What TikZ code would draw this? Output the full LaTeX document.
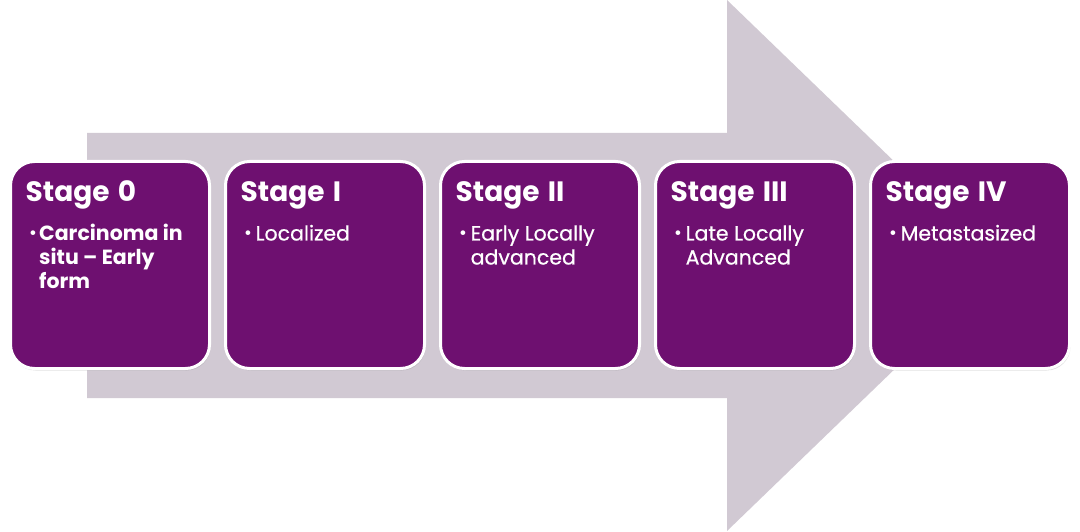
\documentclass[tikz,border=0pt]{standalone}
\usepackage{fontspec}
\setmainfont{Poppins}
\newfontfamily\medfont[FakeBold=0.6]{Poppins}
\usetikzlibrary{shadows}
\definecolor{stagepurple}{RGB}{110,16,112}
\definecolor{arrowgray}{RGB}{209,201,211}
\newcommand{\stagetitlefont}{\fontsize{28}{30}\selectfont\bfseries\spaceskip=0.3em\relax}
\tikzset{
  x=1pt,y=1pt,
  stagebox/.style={draw=white,line width=3pt,fill=stagepurple,rounded corners=24pt,
    minimum width=199pt,minimum height=207pt,inner sep=0pt,
    drop shadow={shadow xshift=1pt,shadow yshift=-2pt,opacity=0.25,fill=gray}},
  titletext/.style={anchor=base west,inner sep=0pt,text=white,font=\stagetitlefont},
  bullettext/.style={anchor=base west,inner sep=0pt,text=white,font=\fontsize{19}{19}\selectfont},
  bodytext/.style={anchor=base west,inner sep=0pt,text=white,font=\fontsize{20.5}{24}\selectfont\medfont},
  bodybold/.style={bodytext,font=\fontsize{20.5}{24}\selectfont\bfseries}
}
\newcommand{\lines}[1]{\parbox[t]{170pt}{\raggedright #1}}
\begin{document}
\begin{tikzpicture}
\useasboundingbox (0,0) rectangle (1080,531);
\fill[white] (0,0) rectangle (1080,531);
% big arrow
\fill[arrowgray] (87,398) -- (727,398) -- (727,531) -- (1002,265.5) -- (727,0) -- (727,133) -- (87,133) -- cycle;
% boxes
\node[stagebox] (b0) at (110,266) {};
\node[stagebox] (b1) at (325,266) {};
\node[stagebox] (b2) at (540,266) {};
\node[stagebox] (b3) at (755,266) {};
\node[stagebox] (b4) at (970,266) {};
% titles
\node[titletext] (h0) at ([xshift=16.5pt,yshift=-41.5pt]b0.north west) {Stage 0};
\node[titletext] (h1) at ([xshift=16.5pt,yshift=-41.5pt]b1.north west) {Stage I};
\node[titletext] (h2) at ([xshift=16.5pt,yshift=-41.5pt]b2.north west) {Stage II};
\node[titletext] (h3) at ([xshift=16.5pt,yshift=-41.5pt]b3.north west) {Stage III};
\node[titletext] (h4) at ([xshift=16.5pt,yshift=-41.5pt]b4.north west) {Stage IV};
% bullets
\foreach \i in {0,...,4}{
  \node[bullettext] (d\i) at ([xshift=20pt,yshift=-80pt]b\i.north west) {\textbullet};
}
% body texts
\node[bodybold] (x0) at ([xshift=30pt,yshift=-80.5pt]b0.north west) {\lines{Carcinoma in\\situ – Early\\form}};
\node[bodytext] (x1) at ([xshift=31.5pt,yshift=-80.5pt]b1.north west) {\lines{Localized}};
\node[bodytext] (x2) at ([xshift=31.5pt,yshift=-80.5pt]b2.north west) {\lines{Early Locally\\advanced}};
\node[bodytext] (x3) at ([xshift=31.5pt,yshift=-80.5pt]b3.north west) {\lines{Late Locally\\Advanced}};
\node[bodytext] (x4) at ([xshift=31.5pt,yshift=-80.5pt]b4.north west) {\lines{Metastasized}};
\end{tikzpicture}
\end{document}
